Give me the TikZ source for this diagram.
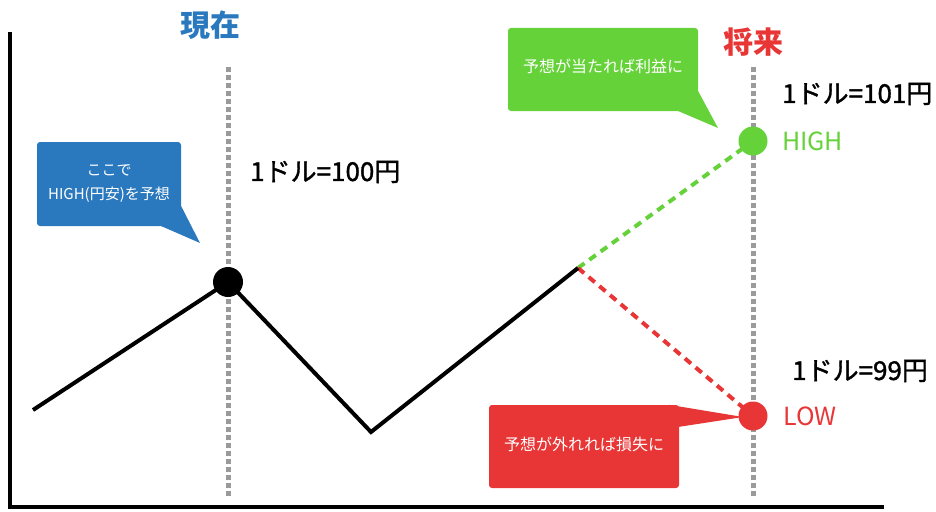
\documentclass[tikz,border=0pt]{standalone}
\usepackage{fontspec}
\setmainfont{Noto Sans CJK JP}
\newfontfamily\medfont[FakeBold=1.3]{Noto Sans CJK JP}
\usetikzlibrary{calc}
\definecolor{cblue}{HTML}{2A78BD}
\definecolor{cgreen}{HTML}{66D23A}
\definecolor{cred}{HTML}{E83535}
\definecolor{cgray}{HTML}{9A9A9A}
\tikzset{
  axisline/.style={line width=4pt},
  guide/.style={cgray,line width=5pt,dash pattern=on 4.5pt off 3.5pt},
  price/.style={line width=4pt,line join=miter},
  fut/.style={line width=4pt,dash pattern=on 8pt off 6pt},
  callout/.style={rounded corners=3pt,text=white,align=center,inner sep=0pt,font=\fontsize{15}{24}\selectfont},
  lbl/.style={inner sep=0pt,anchor=west,font=\fontsize{26}{28}\medfont},
  dot/.style={circle,inner sep=0pt,minimum size=29pt},
}
\begin{document}
\begin{tikzpicture}[x=1pt,y=-1pt]
\useasboundingbox (0,0) rectangle (936,511);
% axes
\coordinate (ytop) at (10,32);
\coordinate (ybot) at (10,509);
\coordinate (xstart) at (8,507);
\coordinate (xend) at (884,507);
\draw[axisline] (ytop) -- (ybot);
\draw[axisline] (xstart) -- (xend);
% guides
\coordinate (g1t) at (228,67); \coordinate (g1b) at (228,498);
\coordinate (g2t) at (753,67); \coordinate (g2b) at (753,498);
\draw[guide] (g1t) -- (g1b);
\draw[guide] (g2t) -- (g2b);
% titles
\node[text=cblue,font=\fontsize{30}{32}\selectfont\bfseries] (now) at (210,25) {現在};
\node[text=cred,font=\fontsize{30}{32}\selectfont\bfseries] (fut) at (753,42) {将来};
% price path
\coordinate (p0) at (33,410);
\coordinate (p1) at (228,282);
\coordinate (p2) at (371,432);
\coordinate (p3) at (578,268);
\coordinate (hic) at (753,141);
\coordinate (loc) at (753,416);
\draw[fut,cgreen] (p3) -- (hic);
\draw[fut,cred] (p3) -- (loc);
\draw[price] (p0) -- (p1) -- (p2) -- (p3);
\node[dot,fill=black,minimum size=30pt] (nowpt) at (p1) {};
\node[dot,fill=cgreen] (hi) at (hic) {};
\node[dot,fill=cred] (lo) at (loc) {};
% labels
\node[text=cgreen,inner sep=0pt,anchor=west,font=\fontsize{25}{27}\selectfont] (hilbl) at (782,141) {HIGH};
\node[text=cred,inner sep=0pt,anchor=west,font=\fontsize{25}{27}\selectfont] (lolbl) at (783,416) {LOW};
\node[lbl] (v100) at (250,172) {1ドル=100円};
\node[lbl] (v101) at (782,94) {1ドル=101円};
\node[lbl] (v99) at (792,371) {1ドル=99円};
% callouts
\node[callout,fill=cblue,minimum width=144pt,minimum height=84pt] (cb) at (109,184) {ここで\\HIGH(円安)を予想};
\coordinate (cbtip) at (200,243);
\fill[cblue] ($(cb.south east)+(-22,-1)$) -- (cbtip) -- ($(cb.south east)+(0,-20)$) -- cycle;
\node[callout,fill=cgreen,minimum width=190pt,minimum height=83pt,font=\fontsize{16}{20}\selectfont] (cg) at (603,69.5) {};
\node[text=white,inner sep=0pt,font=\fontsize{16}{20}\selectfont] (cgt) at (603,66) {予想が当たれば利益に};
\coordinate (cgtip) at (718,128);
\fill[cgreen] ($(cg.south east)+(-22,-1)$) -- (cgtip) -- ($(cg.south east)+(0,-20)$) -- cycle;
\node[callout,fill=cred,minimum width=190pt,minimum height=83pt,font=\fontsize{16}{20}\selectfont] (cr) at (584,446.5) {};
\node[text=white,inner sep=0pt,font=\fontsize{16}{20}\selectfont] (crt) at (584,444) {予想が外れれば損失に};
\coordinate (crtip) at (743,417);
\fill[cred] ($(cr.north east)+(-10,0)$) -- (crtip) -- ($(cr.north east)+(0,22)$) -- cycle;
\end{tikzpicture}
\end{document}
